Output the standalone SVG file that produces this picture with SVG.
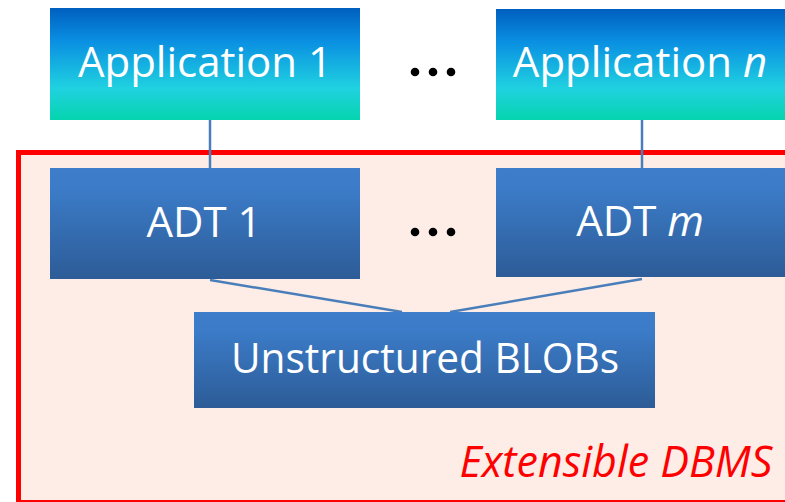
<svg xmlns="http://www.w3.org/2000/svg" width="785" height="502" viewBox="0 0 785 502">
  <style>
    .label { font-family: "Open Sans", "Liberation Sans", sans-serif; font-size: 42px; fill: #ffffff; text-anchor: middle; }
    .dots { fill: #000000; }
    .link { stroke: #4a7ebb; stroke-width: 2.5; fill: none; }
    .dbms { font-family: "Open Sans", "Liberation Sans", sans-serif; font-size: 43px; font-style: italic; fill: #ff0000; }
  </style>
  <defs>
    <linearGradient id="appFill" x1="0" y1="0" x2="0" y2="1">
      <stop offset="0" stop-color="#005fbf"/>
      <stop offset="0.3" stop-color="#0a90e2"/>
      <stop offset="0.72" stop-color="#20d2e0"/>
      <stop offset="1" stop-color="#05d4ae"/>
    </linearGradient>
    <linearGradient id="adtFill" x1="0" y1="0" x2="0" y2="1">
      <stop offset="0" stop-color="#3d7dca"/>
      <stop offset="0.2" stop-color="#3b7bc7"/>
      <stop offset="1" stop-color="#2d5c97"/>
    </linearGradient>
  </defs>

  <rect x="0" y="0" width="785" height="502" fill="#ffffff"/>

  <!-- extensible DBMS region -->
  <g id="dbms">
    <rect x="18.5" y="152.5" width="800" height="350" fill="#fdede6" stroke="#ff0000" stroke-width="5"/>
    <text class="dbms" x="616" y="477" text-anchor="middle">Extensible DBMS</text>
  </g>

  <!-- connectors -->
  <g id="connectors">
    <line class="link" x1="210" y1="120" x2="210" y2="168"/>
    <line class="link" x1="642" y1="120" x2="642" y2="168"/>
    <line class="link" x1="210" y1="280" x2="402" y2="312"/>
    <line class="link" x1="642" y1="279" x2="450" y2="312"/>
  </g>

  <g id="app1">
    <rect x="50" y="8" width="310" height="112" fill="url(#appFill)"/>
    <text class="label" x="205" y="77">Application 1</text>
  </g>

  <g id="appn">
    <rect x="496" y="9" width="300" height="111" fill="url(#appFill)"/>
    <text class="label" x="640" y="77">Application <tspan font-style="italic">n</tspan></text>
  </g>

  <g id="appDots" class="dots">
    <circle cx="415" cy="72" r="4.3"/>
    <circle cx="433" cy="72" r="4.3"/>
    <circle cx="451" cy="72" r="4.3"/>
  </g>

  <g id="adt1">
    <rect x="50" y="168" width="310" height="111" fill="url(#adtFill)"/>
    <text class="label" x="204" y="237">ADT 1</text>
  </g>

  <g id="adtm">
    <rect x="496" y="168" width="300" height="109" fill="url(#adtFill)"/>
    <text class="label" x="640" y="236">ADT <tspan font-style="italic">m</tspan></text>
  </g>

  <g id="adtDots" class="dots">
    <circle cx="415" cy="232" r="4.3"/>
    <circle cx="433" cy="232" r="4.3"/>
    <circle cx="451" cy="232" r="4.3"/>
  </g>

  <g id="blobs">
    <rect x="194" y="312" width="461" height="96" fill="url(#adtFill)"/>
    <text class="label" x="425" y="373" textLength="388" lengthAdjust="spacingAndGlyphs">Unstructured BLOBs</text>
  </g>
</svg>
